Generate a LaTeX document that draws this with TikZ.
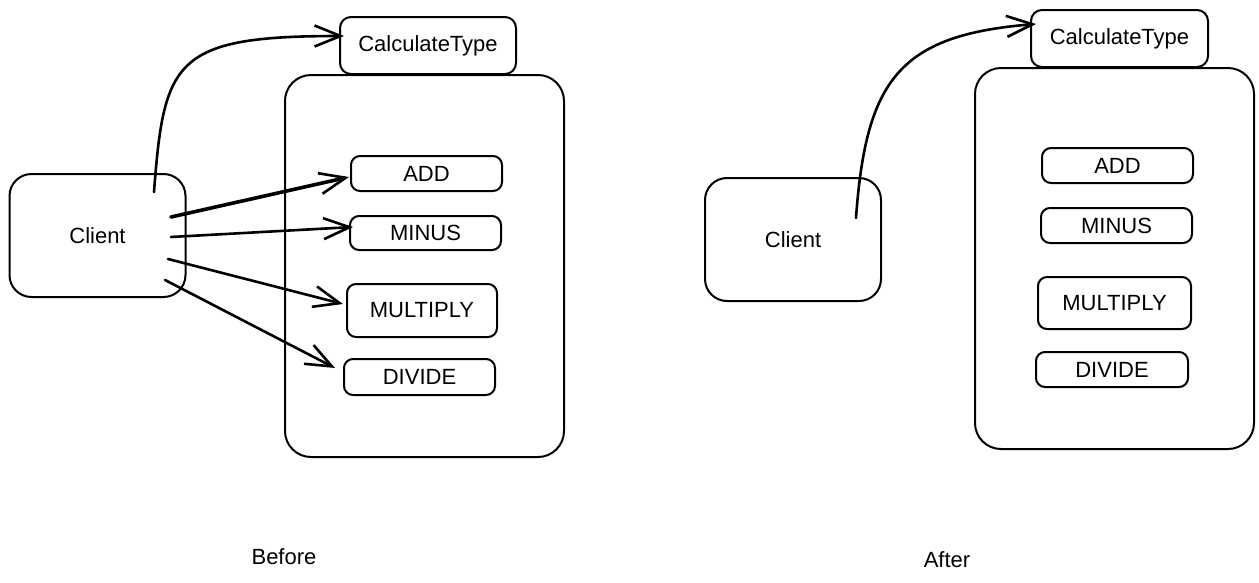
\documentclass[tikz,border=0pt]{standalone}
\usepackage{fontspec}
\setmainfont{Liberation Sans}
\usetikzlibrary{arrows.meta,calc}
\tikzset{
  lbl/.style={font=\fontsize{22}{26}\selectfont},
  card/.style={draw, line width=2pt, rounded corners=9pt, inner sep=0pt, lbl},
  holder/.style={draw, line width=2pt, rounded corners=26pt, inner sep=0pt},
  client/.style={card, rounded corners=22pt, minimum width=176pt, minimum height=123pt},
  typebox/.style={card, rounded corners=11pt, minimum width=176pt, minimum height=57pt},
  opbox/.style={card, minimum width=151pt},
  link/.style={line width=2.6pt, line cap=round, -{Straight Barb[length=26pt,width=21pt,line width=2.6pt]}},
  caption/.style={lbl}
}
\begin{document}
\begin{tikzpicture}[x=1pt, y=-1pt]
\useasboundingbox (0,0) rectangle (1259,582);

% ---- left panel: client calls every operation directly
\node[client] (cl) at (97.5,235.5) {Client};
\node[typebox] (ct) at (428,45.5) {CalculateType};
\node[holder, minimum width=279pt, minimum height=382pt] (cont) at (424.5,266) {};
\node[opbox, minimum height=35pt] (add) at (426.5,173.5) {ADD};
\node[opbox, minimum height=34pt] (minus) at (425.5,233) {MINUS};
\node[opbox, minimum width=150pt, minimum height=53pt] (mul) at (422,310.5) {MULTIPLY};
\node[opbox, minimum height=36pt] (div) at (419.5,377) {DIVIDE};
\node[caption] (before) at (284,557) {Before};

\coordinate (sct) at ($(cl.east)+(-32.5,-43.5)$);
\coordinate (sadd) at ($(cl.east)+(-15.5,-18.5)$);
\coordinate (sminus) at ($(cl.east)+(-15.5,1.5)$);
\coordinate (smul) at ($(cl.east)+(-18.5,23.5)$);
\coordinate (sdiv) at ($(cl.east)+(-21.5,44.5)$);
\coordinate (ect) at ($(ct.west)+(5,-9.5)$);

\draw[link] (sct) .. controls ($(sct)+(10,-132)$) and ($(ect)+(-170,0)$) .. (ect);
\draw[link, line width=3.6pt] (sadd) -- ($(add.west)+(-1,3.5)$);
\draw[link] (sminus) -- ($(minus.west)+(4,-6)$);
\draw[link] (smul) -- ($(mul.west)+(-3,-6.5)$);
\draw[link] (sdiv) -- ($(div.west)+(-8,-9)$);

% ---- right panel: client only talks to CalculateType
\node[client] (cl2) at (793,239.5) {Client};
\node[typebox, minimum width=177pt] (ct2) at (1119.5,38.5) {CalculateType};
\node[holder, minimum width=279pt, minimum height=381pt] (cont2) at (1114.5,258.5) {};
\node[opbox, minimum height=35pt] (add2) at (1117.5,165.5) {ADD};
\node[opbox, minimum height=35pt] (minus2) at (1116.5,225.5) {MINUS};
\node[opbox, minimum width=153pt, minimum height=52pt] (mul2) at (1114.5,303) {MULTIPLY};
\node[opbox, minimum width=152pt, minimum height=35pt] (div2) at (1112,369.5) {DIVIDE};
\node[caption] (after) at (947,560) {After};

\coordinate (sct2) at ($(cl2.east)+(-26,-21.5)$);
\coordinate (ect2) at ($(ct2.west)+(6,-14.5)$);
\draw[link] (sct2) .. controls ($(sct2)+(10,-138)$) and ($(ect2)+(-137,11)$) .. (ect2);
\end{tikzpicture}
\end{document}
